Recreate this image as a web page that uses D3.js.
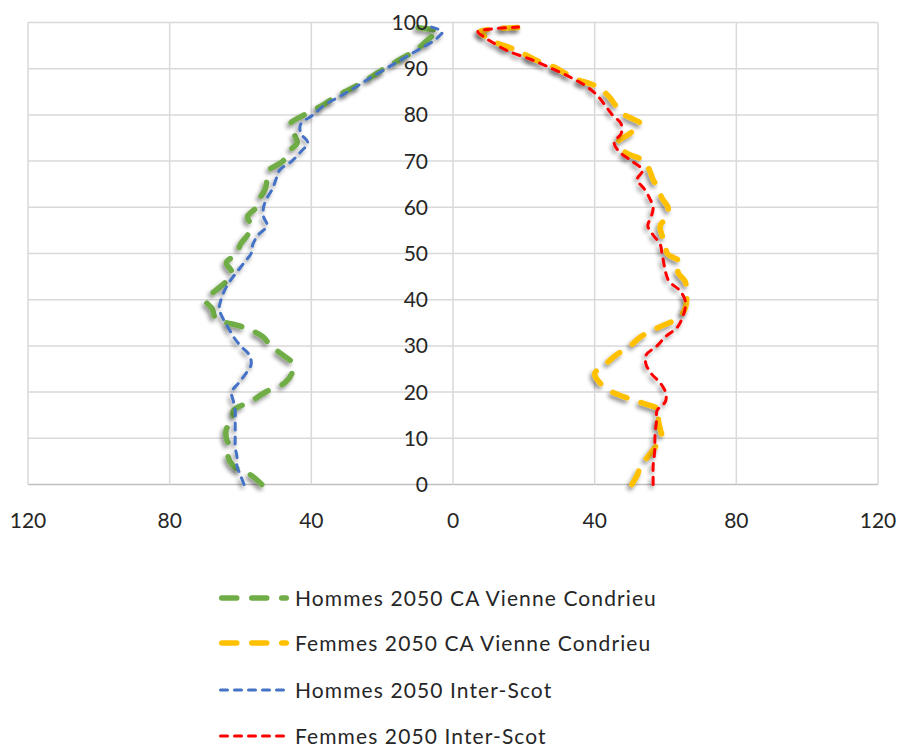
<!DOCTYPE html>
<html>
<head>
<meta charset="utf-8">
<script src="https://cdn.jsdelivr.net/npm/d3@7"></script>
<style>
  html, body { margin: 0; padding: 0; background: #ffffff; }
  svg { display: block; }
  text { font-family: Lato, "Open Sans", sans-serif; fill: #262626; }
</style>
</head>
<body>
<div id="chart"></div>
<script>
// ---------- DATA ----------
const ages = [0,2,4,6,8,10,12,14,16,18,20,22,24,26,28,30,32,34,36,38,40,42,44,46,48,50,
              52,54,56,58,60,62,64,66,68,70,72,74,76,78,80,82,84,86,88,90,92,94,96,97,98,99];

const hommesCA = [54,57,62,63.5,63,64,64,62,62,57,53,47.5,45.5,45,48,51.5,53.7,59,67,68,70,67,64,62.5,64,61,
                  60,58,57,58,55.5,54.5,53,52.5,52,48,46.5,44,45,46,42,37,33,28,23.5,19.5,15,10.5,7.5,6,4,12];

const femmesCA = [50.5,52,53,55,57,59,58.5,58,58.5,52,45,41.5,40,43,46,50,53,58,63.5,65.5,66,66,65.5,63.5,64.5,60.5,
                  60,59,58.5,60.5,60.7,59,58,56.5,55.5,54,48.5,46.5,50,53,48.5,46,44,41,34,29.5,23,18,11,9,7.5,21];

const hommesScot = [59,60,61,61,61.5,61.5,61.5,61.5,61.5,62,62.5,60.5,58.5,57,57.5,60,62,63.5,65,66,65.5,64.5,63,61,59,57,
                    56.5,55,52.5,53.5,53.5,52.5,51,50,49,45.5,43,41,43,43,39.5,36.5,32,27.5,23.4,19,14.5,10,5.5,4,3,6];

const femmesScot = [56.5,56.5,56.5,56.8,57,57,57.2,57.5,57.6,60,60,58.5,56,54.5,54.5,57.6,60,63.3,64.7,65.5,65.5,64,61,60,59.5,59,
                    58.5,56.5,55,56,56.5,55.5,54,52,53.5,50.5,47,45.5,47.5,47.5,45,43,41,38,33.5,28,22,15,10.5,8.5,7,18.5];

const seriesNames = ["Hommes 2050 CA Vienne Condrieu", "Femmes 2050 CA Vienne Condrieu",
                     "Hommes 2050 Inter-Scot", "Femmes 2050 Inter-Scot"];
const xTicks = [-120, -80, -40, 0, 40, 80, 120];
const yTicks = [0,10,20,30,40,50,60,70,80,90,100];

// ---------- CHART ----------
const W = 901, H = 749;
const svg = d3.select("#chart").append("svg").attr("width", W).attr("height", H);

const x = d3.scaleLinear().domain([-120, 120]).range([28, 878]);
const y = d3.scaleLinear().domain([0, 100]).range([484.5, 22.5]);

const defs = svg.append("defs");
const f = defs.append("filter").attr("id", "shadow")
  .attr("x", "-20%").attr("y", "-20%").attr("width", "140%").attr("height", "140%");
f.append("feDropShadow").attr("dx", -2).attr("dy", 3).attr("stdDeviation", 2.2)
  .attr("flood-color", "#000").attr("flood-opacity", 0.45);

// gridlines
const grid = svg.append("g");
grid.selectAll("line.h").data(yTicks).join("line")
  .attr("x1", x(-120)).attr("x2", x(120))
  .attr("y1", d => y(d)).attr("y2", d => y(d))
  .attr("stroke", d => d === 0 ? "#bfbfbf" : "#d9d9d9").attr("stroke-width", 1.5);
grid.selectAll("line.v").data(xTicks).join("line")
  .attr("y1", y(0)).attr("y2", y(100))
  .attr("x1", d => x(d)).attr("x2", d => x(d))
  .attr("stroke", "#d9d9d9").attr("stroke-width", 1.5);

// x axis labels
svg.append("g").selectAll("text").data(xTicks).join("text")
  .attr("x", d => x(d)).attr("y", 528)
  .attr("text-anchor", "middle").attr("font-size", 21)
  .text(d => Math.abs(d));

// series
const series = [
  { name: seriesNames[0], vals: hommesCA,  sign: -1, color: "#70AD47", width: 5.5, dash: "15,15", cap: "round" },
  { name: seriesNames[1], vals: femmesCA,  sign:  1, color: "#FFC000", width: 5.5, dash: "15,15", cap: "round" },
  { name: seriesNames[2], vals: hommesScot, sign: -1, color: "#4472C4", width: 3,   dash: "7,7",   cap: "round" },
  { name: seriesNames[3], vals: femmesScot, sign:  1, color: "#FF0000", width: 3,   dash: "7,7",   cap: "round" }
];

const line = d3.line().curve(d3.curveCatmullRom.alpha(0.5));
const lines = svg.append("g");
series.forEach(s => {
  const pts = ages.map((a, i) => [x(s.sign * s.vals[i]), y(a)]);
  lines.append("path")
    .attr("d", line(pts))
    .attr("fill", "none")
    .attr("stroke", s.color)
    .attr("stroke-width", s.width)
    .attr("stroke-dasharray", s.dash)
    .attr("stroke-linecap", s.cap)
    .attr("stroke-linejoin", "round")
    .attr("filter", "url(#shadow)");
});

// y axis labels (drawn over lines)
svg.append("g").selectAll("text").data(yTicks).join("text")
  .attr("x", 428).attr("y", d => y(d))
  .attr("dy", "0.36em")
  .attr("text-anchor", "end").attr("font-size", 21)
  .text(d => d);

// legend
const leg = svg.append("g");
const rowY = [598, 643, 690, 736];
series.forEach((s, i) => {
  const g = leg.append("g").attr("transform", `translate(0,${rowY[i]})`);
  const inset = s.width / 2;
  g.append("line")
    .attr("x1", 219 + inset).attr("x2", 289 - inset)
    .attr("y1", 0).attr("y2", 0)
    .attr("stroke", s.color).attr("stroke-width", s.width)
    .attr("stroke-dasharray", s.dash).attr("stroke-linecap", s.cap);
  g.append("text")
    .attr("x", 295).attr("y", 0).attr("dy", "0.36em")
    .attr("font-size", 21)
    .attr("letter-spacing", "1.1px")
    .text(s.name);
});
</script>
</body>
</html>
